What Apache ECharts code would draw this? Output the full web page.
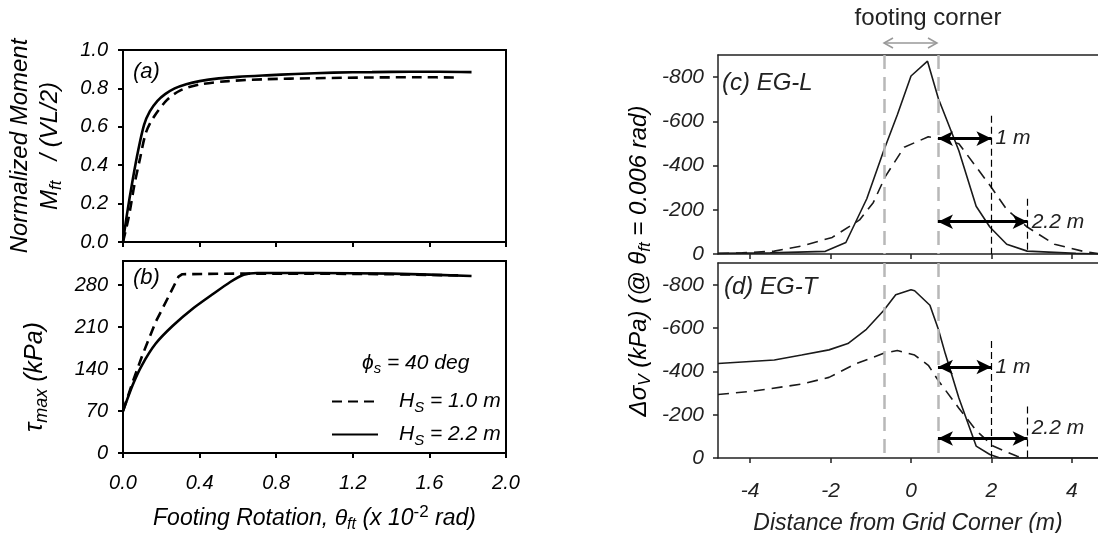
<!DOCTYPE html>
<html>
<head>
<meta charset="utf-8">
<script src="https://cdn.jsdelivr.net/npm/echarts@6/dist/echarts.min.js"></script>
<style>
  html, body { margin: 0; padding: 0; background: #fff; }
  #main { width: 1098px; height: 533px; }
</style>
</head>
<body>
<div id="main"></div>
<script>
const FONT = '"Liberation Sans", Arial, sans-serif'

// (a) normalized moment vs footing rotation (x 10^-2 rad)
const aRotHs10 = [0, 0.03, 0.06, 0.09, 0.12, 0.16, 0.23, 0.3, 0.4, 0.55, 0.75, 1.0, 1.3, 1.55, 1.75]
const aMomHs10 = [0, 0.13, 0.3, 0.44, 0.57, 0.65, 0.74, 0.79, 0.82, 0.838, 0.848, 0.853, 0.857, 0.858, 0.857]
const aRotHs22 = [0, 0.02, 0.05, 0.08, 0.11, 0.14, 0.18, 0.22, 0.27, 0.33, 0.4, 0.5, 0.6, 0.75, 0.9, 1.1, 1.3, 1.5, 1.65, 1.82]
const aMomHs22 = [0, 0.14, 0.32, 0.48, 0.61, 0.68, 0.735, 0.77, 0.8, 0.822, 0.838, 0.852, 0.86, 0.868, 0.875, 0.882, 0.885, 0.887, 0.887, 0.885]

// (b) tau max (kPa) vs footing rotation
const bRotHs10 = [0, 0.05, 0.1, 0.17, 0.24, 0.29, 0.31, 0.6, 1.0, 1.4, 1.75]
const bTauHs10 = [70, 118, 162, 218, 262, 294, 298, 299, 299, 298, 296]
const bRotHs22 = [0, 0.05, 0.1, 0.17, 0.26, 0.37, 0.47, 0.56, 0.63, 0.7, 1.0, 1.4, 1.82]
const bTauHs22 = [70, 113, 147, 182, 212, 242, 265, 285, 297, 300, 300, 299, 295]

// (c) EG-L  delta sigma_v (kPa) vs distance from grid corner (m)
const cDistSolid = [-4.8, -3.5, -2.13, -1.62, -1.1, -0.68, -0.34, 0, 0.41, 0.68, 1.19, 1.62, 1.96, 2.38, 2.89, 4.1, 4.65]
const cSigSolid = [-3, -5, -12, -52, -250, -467, -630, -805, -872, -703, -467, -216, -122, -44, -13, -3, 0]
const cDistDash = [-4.8, -4.2, -3.4, -2.72, -1.96, -1.28, -0.94, -0.64, -0.17, 0.43, 0.68, 1.19, 1.96, 2.38, 2.89, 3.57, 4.26, 4.65]
const cSigDash = [-2, -5, -13, -36, -75, -154, -232, -350, -483, -530, -522, -499, -311, -201, -122, -44, -13, -2]

// (d) EG-T
const dDistSolid = [-4.8, -3.4, -2.72, -2.04, -1.57, -1.11, -0.68, -0.38, 0, 0.09, 0.47, 0.68, 0.85, 1.19, 1.62, 1.96, 2.21, 4.65]
const dSigSolid = [-436, -452, -475, -499, -528, -594, -681, -753, -777, -772, -705, -594, -483, -277, -55, -16, 0, 0]
const dDistDash = [-4.8, -3.91, -2.72, -2.04, -1.36, -0.68, -0.34, 0.09, 0.43, 0.68, 1.19, 1.62, 2.04, 2.64, 2.77]
const dSigDash = [-293, -309, -341, -372, -436, -483, -496, -475, -428, -357, -230, -127, -55, -8, 0]

// tick labels
const rotTicks = [0, 0.4, 0.8, 1.2, 1.6, 2.0]
const momTicks = [0, 0.2, 0.4, 0.6, 0.8, 1.0]
const tauTicks = [0, 70, 140, 210, 280]
const distTicks = [-4, -2, 0, 2, 4]
const sigTicks = [-800, -600, -400, -200, 0]

// annotations (data units)
const hsValues = ['1.0', '2.2']
const cornerX = [-0.67, 0.67]
const offsetX = [2.0, 2.9]
const offsetLabels = ['1 m', '2.2 m']
const cArrowY = [-522, -146]
const cLineTop = [-625, -250]
const cLabelY = [-522, -146]
const dArrowY = [-420, -90]
const dLineTop = [-540, -238]
const dLabelY = [-420, -140]

const zip = (xs, ys) => xs.map((x, i) => [x, ys[i]])
const hsName = v => 'Hs = ' + v + ' m'

const richSet = (size, color) => ({
  i: {fontSize: size, fontStyle: 'italic', fontFamily: FONT, lineHeight: size + 6, color: color || '#000'},
  s: {fontSize: Math.round(size * 0.7), fontStyle: 'italic', fontFamily: FONT, verticalAlign: 'bottom', lineHeight: size + 6, color: color || '#000'},
  p: {fontSize: Math.round(size * 0.75), fontFamily: FONT, verticalAlign: 'top', lineHeight: size + 6, color: color || '#000'}
})

let myChart = echarts.init(document.getElementById('main'))

const leftAxisLine = {onZero: false, lineStyle: {color: '#000', width: 2}}
const leftTick = {length: 5, lineStyle: {color: '#000', width: 2}}
const leftLabel = {color: '#000', fontSize: 20, fontStyle: 'italic', fontFamily: FONT}
const rightAxisLine = {onZero: false, lineStyle: {color: '#222', width: 1.5}}
const rightTick = {length: 5, lineStyle: {color: '#222', width: 1.5}, customValues: distTicks}
const rightLabel = {color: '#222', fontSize: 21, fontStyle: 'italic', fontFamily: FONT}
const DMIN = -4.8, DMAX = 4.65

const leftLine = (dash) => ({color: '#000', width: 2.6, type: dash ? [10, 6] : 'solid'})
const rightLine = (dash) => ({color: '#1a1a1a', width: 1.6, type: dash ? [11, 7] : 'solid'})

function annot(arrowY, lineTop, labelY) {
  return {
    markLine: {
      silent: true,
      symbol: ['none', 'none'],
      label: {show: false},
      data: [
        ...cornerX.map(x => ({xAxis: x, lineStyle: {color: '#b8b8b8', width: 2.5, type: [14, 8]}})),
        ...offsetX.map((x, i) => [
          {coord: [x, lineTop[i]], lineStyle: {color: '#000', width: 1.2, type: [7, 4]}},
          {coord: [x, 0]}
        ]),
        ...offsetX.map((x, i) => [
          {coord: [cornerX[1], arrowY[i]], symbol: 'arrow', symbolSize: [11, 15], lineStyle: {color: '#000', width: 3, type: 'solid'}},
          {coord: [x, arrowY[i]], symbol: 'arrow', symbolSize: [11, 15]}
        ])
      ]
    },
    markPoint: {
      silent: true,
      symbol: 'circle',
      symbolSize: 0,
      label: {show: true, position: 'right', distance: 4, formatter: '{b}', color: '#222', fontSize: 21, fontStyle: 'italic', fontFamily: FONT},
      data: offsetX.map((x, i) => ({name: offsetLabels[i], coord: [x, labelY[i]]}))
    }
  }
}

let option = {
  animation: false,
  backgroundColor: '#fff',
  grid: [
    {left: 123, top: 50, width: 383, height: 192, show: true, borderColor: '#000', borderWidth: 2, outerBoundsMode: 'none'},
    {left: 123, top: 261, width: 383, height: 192, show: true, borderColor: '#000', borderWidth: 2, outerBoundsMode: 'none'},
    {left: 718, top: 55, right: 0, height: 199, outerBoundsMode: 'none'},
    {left: 718, top: 263, right: 0, height: 195, outerBoundsMode: 'none'}
  ],
  xAxis: [
    {gridIndex: 0, type: 'value', min: 0, max: 2, splitLine: {show: false}, axisLine: leftAxisLine,
      axisTick: {...leftTick, customValues: rotTicks}, axisLabel: {show: false}},
    {gridIndex: 1, type: 'value', min: 0, max: 2, splitLine: {show: false}, axisLine: leftAxisLine,
      axisTick: {...leftTick, customValues: rotTicks},
      axisLabel: {...leftLabel, margin: 20, customValues: rotTicks, formatter: v => v.toFixed(1)},
      name: '{i|Footing Rotation, }{i|θ}{s|ft}{i| (x 10}{p|-2}{i| rad)}',
      nameLocation: 'middle', nameGap: 51,
      nameTextStyle: {rich: richSet(23)}},
    {gridIndex: 2, type: 'value', min: DMIN, max: DMAX, splitLine: {show: false}, axisLine: rightAxisLine,
      axisTick: rightTick, axisLabel: {show: false}},
    {gridIndex: 3, type: 'value', min: DMIN, max: DMAX, splitLine: {show: false}, axisLine: rightAxisLine,
      axisTick: rightTick, axisLabel: {...rightLabel, margin: 23, customValues: distTicks},
      name: 'Distance from Grid Corner (m)', nameLocation: 'middle', nameGap: 54,
      nameTextStyle: {color: '#222', fontSize: 23, fontStyle: 'italic', fontFamily: FONT}},
    // top frame lines of the right panels
    {gridIndex: 2, type: 'value', position: 'top', min: DMIN, max: DMAX, splitLine: {show: false},
      axisLine: rightAxisLine, axisTick: {show: false}, axisLabel: {show: false}},
    {gridIndex: 3, type: 'value', position: 'top', min: DMIN, max: DMAX, splitLine: {show: false},
      axisLine: rightAxisLine, axisTick: {show: false}, axisLabel: {show: false}}
  ],
  yAxis: [
    {gridIndex: 0, type: 'value', min: 0, max: 1, splitLine: {show: false}, axisLine: leftAxisLine,
      axisTick: {...leftTick, customValues: momTicks},
      axisLabel: {...leftLabel, margin: 15, customValues: momTicks, formatter: v => v.toFixed(1)},
      name: '{i|Normalized Moment}\n{i|M}{s|ft}{i|   / (VL/2)}',
      nameLocation: 'middle', nameRotate: 90, nameGap: 58,
      nameTextStyle: {rich: richSet(24)}},
    {gridIndex: 1, type: 'value', min: 0, max: 320, splitLine: {show: false}, axisLine: leftAxisLine,
      axisTick: {...leftTick, customValues: tauTicks},
      axisLabel: {...leftLabel, margin: 15, customValues: tauTicks},
      name: '{i|τ}{s|max}{i| (kPa)}',
      nameLocation: 'middle', nameRotate: 90, nameGap: 72,
      nameTextStyle: {rich: richSet(25), padding: [0, 40, 0, 0]}},
    {gridIndex: 2, type: 'value', min: -900, max: 0, inverse: true, splitLine: {show: false}, axisLine: rightAxisLine,
      axisTick: {...rightTick, customValues: sigTicks}, axisLabel: {...rightLabel, margin: 14, customValues: sigTicks}},
    {gridIndex: 3, type: 'value', min: -900, max: 0, inverse: true, splitLine: {show: false}, axisLine: rightAxisLine,
      axisTick: {...rightTick, customValues: sigTicks}, axisLabel: {...rightLabel, margin: 14, customValues: sigTicks}}
  ],
  legend: {
    data: hsValues.map(hsName),
    orient: 'vertical', left: 326, top: 386, itemGap: 9, itemWidth: 46, itemHeight: 14,
    selectedMode: false,
    itemStyle: {opacity: 0},
    formatter: name => '{i|H}{s|S}{i| = ' + name.split('= ')[1] + '}',
    textStyle: {rich: richSet(21), padding: [0, 0, 0, 16]}
  },
  series: [
    {name: hsName(hsValues[0]), type: 'line', xAxisIndex: 0, yAxisIndex: 0, symbol: 'none', smooth: 0.3, color: '#000',
      lineStyle: leftLine(true), data: zip(aRotHs10, aMomHs10)},
    {name: hsName(hsValues[1]), type: 'line', xAxisIndex: 0, yAxisIndex: 0, symbol: 'none', smooth: 0.3, color: '#000',
      lineStyle: leftLine(false), data: zip(aRotHs22, aMomHs22)},
    {name: hsName(hsValues[0]), type: 'line', xAxisIndex: 1, yAxisIndex: 1, symbol: 'none', color: '#000',
      lineStyle: leftLine(true), data: zip(bRotHs10, bTauHs10)},
    {name: hsName(hsValues[1]), type: 'line', xAxisIndex: 1, yAxisIndex: 1, symbol: 'none', smooth: 0.2, color: '#000',
      lineStyle: leftLine(false), data: zip(bRotHs22, bTauHs22)},
    {name: 'EG-L dashed', type: 'line', xAxisIndex: 2, yAxisIndex: 2, symbol: 'none', color: '#1a1a1a',
      lineStyle: rightLine(true), data: zip(cDistDash, cSigDash)},
    {name: 'EG-L solid', type: 'line', xAxisIndex: 2, yAxisIndex: 2, symbol: 'none', color: '#1a1a1a',
      lineStyle: rightLine(false), data: zip(cDistSolid, cSigSolid), ...annot(cArrowY, cLineTop, cLabelY)},
    {name: 'EG-T dashed', type: 'line', xAxisIndex: 3, yAxisIndex: 3, symbol: 'none', color: '#1a1a1a',
      lineStyle: rightLine(true), data: zip(dDistDash, dSigDash)},
    {name: 'EG-T solid', type: 'line', xAxisIndex: 3, yAxisIndex: 3, symbol: 'none', color: '#1a1a1a',
      lineStyle: rightLine(false), data: zip(dDistSolid, dSigSolid), ...annot(dArrowY, dLineTop, dLabelY)}
  ],
  graphic: [
    {type: 'text', x: 133, y: 72, style: {text: '(a)', font: 'italic 22px ' + FONT, fill: '#000', verticalAlign: 'middle'}},
    {type: 'text', x: 133, y: 278, style: {text: '(b)', font: 'italic 22px ' + FONT, fill: '#000', verticalAlign: 'middle'}},
    {type: 'text', x: 722, y: 83, style: {text: '(c) EG-L', font: 'italic 24px ' + FONT, fill: '#222', verticalAlign: 'middle'}},
    {type: 'text', x: 724, y: 287, style: {text: '(d) EG-T', font: 'italic 24px ' + FONT, fill: '#222', verticalAlign: 'middle'}},
    {type: 'text', x: 362, y: 363, style: {text: '{i|ϕ}{s|s}{i| = 40 deg}', rich: richSet(21), verticalAlign: 'middle'}},
    {type: 'text', x: 928, y: 18, style: {text: 'footing corner', font: '24px ' + FONT, fill: '#222', align: 'center', verticalAlign: 'middle'}},
    {type: 'line', shape: {x1: 884, y1: 43, x2: 937, y2: 43}, style: {stroke: '#999', lineWidth: 1.5}},
    {type: 'polyline', shape: {points: [[893, 38], [884, 43], [893, 48]]}, style: {stroke: '#999', lineWidth: 1.5, fill: null}},
    {type: 'polyline', shape: {points: [[928, 38], [937, 43], [928, 48]]}, style: {stroke: '#999', lineWidth: 1.5, fill: null}},
    {type: 'text', x: 639, y: 261, rotation: Math.PI / 2,
      style: {text: '{i|Δσ}{s|V}{i| (kPa) (@ θ}{s|ft}{i| = 0.006 rad)}', rich: richSet(24, '#222'), align: 'center', verticalAlign: 'middle'}}
  ]
}

myChart.setOption(option)
</script>
</body>
</html>
